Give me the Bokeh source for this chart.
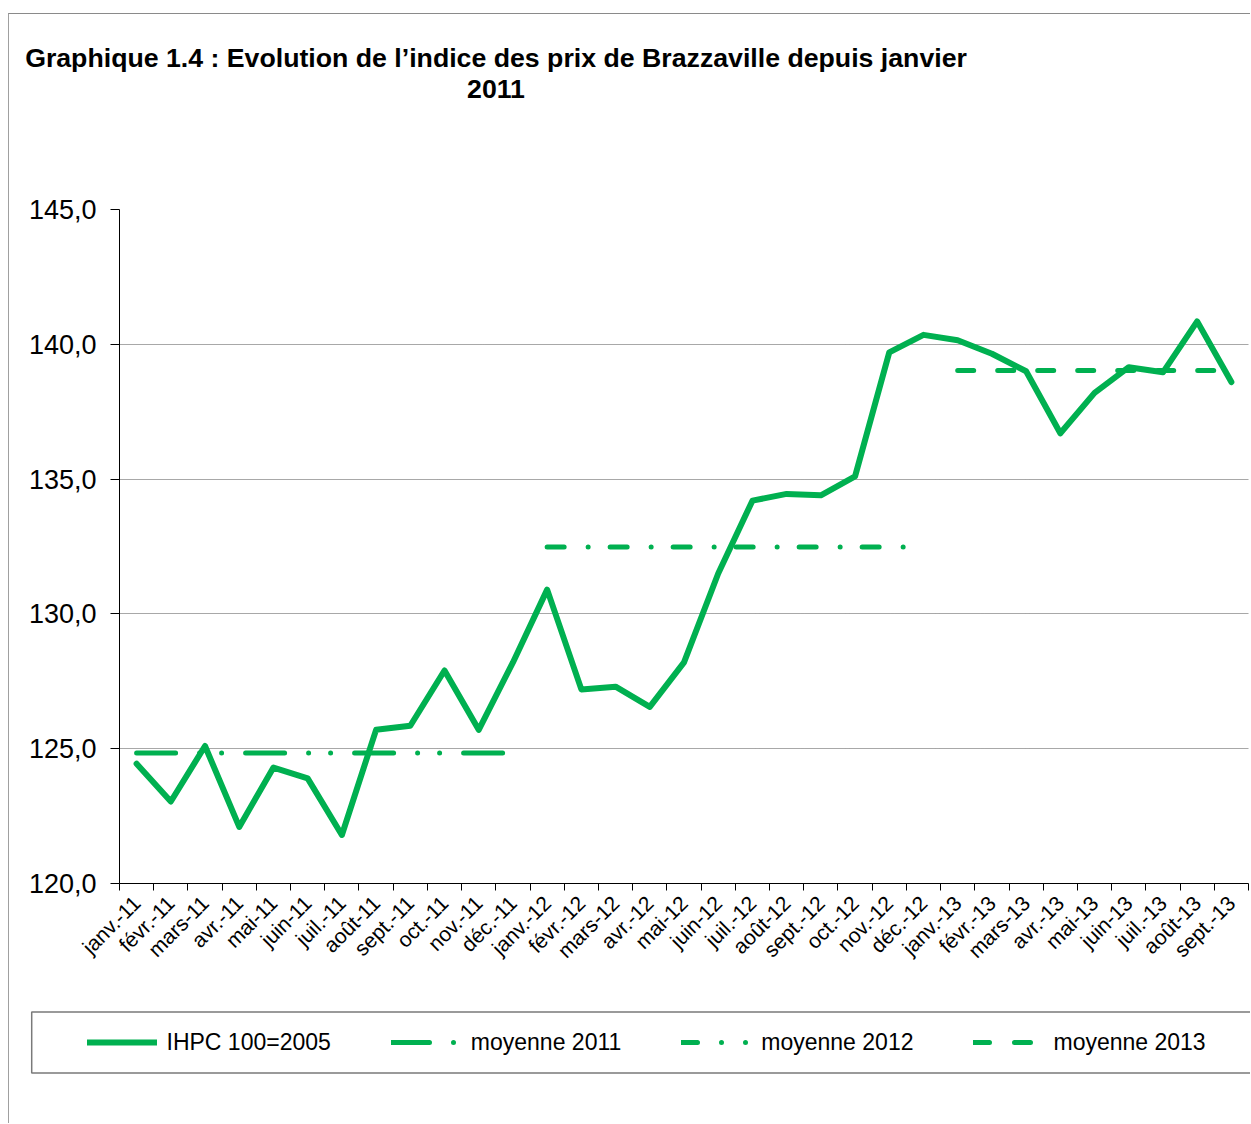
import math
from bokeh.plotting import figure
from bokeh.layouts import column
from bokeh.models import (ColumnDataSource, Range1d, FixedTicker, CustomJSTickFormatter,
                          Legend, LegendItem, Label, BoxAnnotation)
from bokeh.embed import file_html
from bokeh.resources import INLINE

# ---------------- data ----------------
months = ["janv.-11", "févr.-11", "mars-11", "avr.-11", "mai-11", "juin-11", "juil.-11",
          "août-11", "sept.-11", "oct.-11", "nov.-11", "déc.-11",
          "janv.-12", "févr.-12", "mars-12", "avr.-12", "mai-12", "juin-12", "juil.-12",
          "août-12", "sept.-12", "oct.-12", "nov.-12", "déc.-12",
          "janv.-13", "févr.-13", "mars-13", "avr.-13", "mai-13", "juin-13", "juil.-13",
          "août-13", "sept.-13"]
ihpc = [124.44, 123.04, 125.10, 122.10, 124.30, 123.90, 121.80, 125.70, 125.85, 127.90,
        125.70, 128.20, 130.90, 127.20, 127.30, 126.55, 128.20, 131.50, 134.20, 134.45,
        134.40, 135.10, 139.70, 140.35, 140.15, 139.65, 139.00, 136.70, 138.20, 139.15,
        138.96, 140.85, 138.60]
moy_2011 = 124.84
moy_2012 = 132.48
moy_2013 = 139.03
y_ticks = [120, 125, 130, 135, 140, 145]
title_lines = ["Graphique 1.4 : Evolution de l\u2019indice des prix de Brazzaville depuis janvier",
               "2011"]
legend_labels = ["IHPC 100=2005", "moyenne 2011", "moyenne 2012", "moyenne 2013"]

# ---------------- styling ----------------
GREEN = "#00B050"
FONT = "Liberation Sans"
W = 1241
H_TITLE, H_MAIN, H_LEG = 175, 801, 133
NAN = float("nan")


def blank_fig(h):
    f = figure(width=W, height=h, output_backend="svg", toolbar_location=None,
               x_range=Range1d(0, W), y_range=Range1d(0, h), min_border=0,
               min_border_left=0, min_border_right=0, min_border_top=0, min_border_bottom=0,
               x_axis_location=None, y_axis_location=None, frame_align=False)
    f.outline_line_color = None
    f.grid.visible = False
    f.background_fill_color = "white"
    f.border_fill_color = "white"
    return f


# ---------------- title ----------------
tf = blank_fig(H_TITLE)
for txt, yb in [(title_lines[0], 131.5), (title_lines[1], 100.5)]:
    tf.add_layout(Label(x=486.5, y=yb, x_units="screen", y_units="screen", text=txt,
                        text_font=FONT, text_font_size="26.7px", text_font_style="bold",
                        text_align="center", text_baseline="alphabetic", text_color="black"))

# ---------------- main chart ----------------
p = figure(width=W, height=H_MAIN, output_backend="svg", toolbar_location=None,
           x_range=Range1d(-0.5, len(months) - 0.5), y_range=Range1d(120, 145),
           min_border_left=110, min_border_right=2, min_border_top=20, min_border_bottom=107,
           frame_align=False)
p.outline_line_color = None
p.background_fill_color = "white"
p.border_fill_color = "white"

idx = list(range(len(months)))
src = ColumnDataSource(dict(x=idx, y=ihpc))
p.line("x", "y", source=src, line_color=GREEN, line_width=6,
       line_join="round", line_cap="round")

i11 = [i for i, m in enumerate(months) if m.endswith("11")]
i12 = [i for i, m in enumerate(months) if m.endswith("12")]
i13 = [i for i, m in enumerate(months) if m.endswith("13")]

p.line([i11[0], i11[-1]], [moy_2011] * 2, line_color=GREEN, line_width=5,
       line_cap="round", line_dash="39 24 0 22 0 24")
p.line([i12[0], i12[-1]], [moy_2012] * 2, line_color=GREEN, line_width=5,
       line_cap="round", line_dash="17 24 0 22")
p.line([i13[0], i13[-1]], [moy_2013] * 2, line_color=GREEN, line_width=5,
       line_cap="round", line_dash="16 24")

yax = p.yaxis[0]
yax.ticker = FixedTicker(ticks=y_ticks)
yax.formatter = CustomJSTickFormatter(code="return tick.toFixed(1).replace('.', ',');")
yax.major_label_text_font = FONT
yax.major_label_text_font_size = "27px"
yax.major_label_text_color = "black"
yax.axis_line_color = "black"
yax.major_tick_line_color = "black"
yax.major_tick_out = 9
yax.major_tick_in = 0
yax.minor_tick_line_color = None
yax.major_label_standoff = 14

xax = p.xaxis[0]
xax.ticker = FixedTicker(ticks=idx, minor_ticks=[i - 0.5 for i in range(len(months) + 1)])
xax.major_label_overrides = {i: m for i, m in enumerate(months)}
xax.major_label_orientation = math.pi / 4
xax.major_label_text_font = FONT
xax.major_label_text_font_size = "21px"
xax.major_label_text_color = "black"
xax.axis_line_color = "black"
xax.major_tick_line_color = None
xax.major_tick_out = 7
xax.major_tick_in = 0
xax.minor_tick_line_color = "black"
xax.minor_tick_out = 7
xax.minor_tick_in = 0
xax.major_label_standoff = 9

p.xgrid.grid_line_color = None
p.ygrid.ticker = FixedTicker(ticks=[t for t in y_ticks if 120 < t < 145])
p.ygrid.grid_line_color = "#505050"
p.ygrid.grid_line_dash = "1 1"
p.ygrid.grid_line_width = 1

# ---------------- legend panel ----------------
lf = blank_fig(H_LEG)
lf.add_layout(BoxAnnotation(left=22.2, right=1300, bottom=50.5, top=111.5,
                            left_units="screen", right_units="screen",
                            top_units="screen", bottom_units="screen",
                            fill_color=None, fill_alpha=0, line_color="#7a7a7a",
                            line_width=1.5, line_alpha=1))
# legend proxies (no visible data)
g0 = lf.line([NAN], [NAN], line_color=GREEN, line_width=6, line_cap="round")
g1 = lf.line([NAN], [NAN], line_color=GREEN, line_width=5, line_cap="round",
             line_dash="38 24 0 30")
g2 = lf.line([NAN], [NAN], line_color=GREEN, line_width=5, line_cap="round",
             line_dash="16 24 0 24 0 30")
g3 = lf.line([NAN], [NAN], line_color=GREEN, line_width=5, line_cap="round",
             line_dash="16 25")
legend = Legend(items=[LegendItem(label=legend_labels[0], renderers=[g0]),
                       LegendItem(label=legend_labels[1], renderers=[g1]),
                       LegendItem(label=legend_labels[2], renderers=[g2]),
                       LegendItem(label=legend_labels[3], renderers=[g3])],
                orientation="horizontal", padding=0, spacing=60, margin=0,
                glyph_width=70, glyph_height=20, label_standoff=10,
                label_text_font=FONT, label_text_font_size="23px",
                label_text_color="black", border_line_color=None,
                background_fill_alpha=0, location=(77.5, 67.5))
lf.add_layout(legend, "center")

layout = column(tf, p, lf, spacing=0,
                styles={"margin-left": "8px", "margin-top": "13px",
                        "border-left": "1.5px solid #a0a0a0",
                        "border-top": "1.5px solid #8a8a8a"})

open("out.html", "w").write(file_html(layout, INLINE))
